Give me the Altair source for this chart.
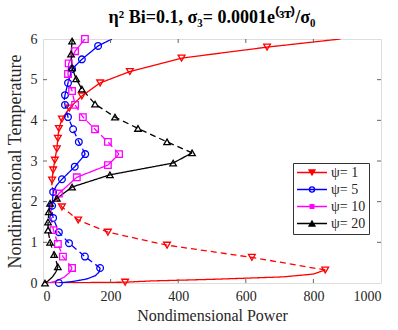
import altair as alt
import pandas as pd

SERIES = ["ψ= 1", "ψ= 5", "ψ= 10", "ψ= 20"]
COLORS = ["#ff0000", "#0000ff", "#ff00ff", "#000000"]
SHAPES = ["triangle-down", "circle", "square", "triangle-up"]
MARKER_SIZES = [46, 42, 24, 46]

X_TICKS = [0, 200, 400, 600, 800, 1000]
Y_TICKS = [0, 1, 2, 3, 4, 5, 6]

# ---- psi = 1 (red) ----
red_lower_P = [0, 243, 318, 500, 710, 800, 835]
red_lower_T = [0, 0.02, 0.05, 0.09, 0.15, 0.22, 0.32]
red_dash_P = [835, 618, 367, 192, 104, 56, 34, 26]
red_dash_T = [0.32, 0.63, 0.93, 1.25, 1.55, 1.87, 2.15, 2.4]
red_upper_P = [26, 27, 30, 35, 41, 44, 47, 56, 78, 115, 169, 257, 410, 663, 880]
red_upper_T = [2.4, 2.53, 2.78, 3.02, 3.3, 3.56, 3.8, 4.03, 4.3, 4.6, 4.92, 5.2, 5.53, 5.8, 6.0]
red_mk_P = [243, 835, 618, 367, 192, 104, 56, 27, 30, 35, 41, 44, 47, 56, 78, 115, 169, 257, 410, 663]
red_mk_T = [0.02, 0.32, 0.63, 0.93, 1.25, 1.55, 1.87, 2.53, 2.78, 3.02, 3.3, 3.56, 3.8, 4.03, 4.3, 4.6, 4.92, 5.2, 5.53, 5.8]

# ---- psi = 5 (blue) ----
blue_lower_P = [47, 90, 130, 155, 166, 169]
blue_lower_T = [0, 0.04, 0.1, 0.18, 0.27, 0.37]
blue_dash1_P = [169, 124, 77, 47, 30, 26]
blue_dash1_T = [0.37, 0.65, 0.98, 1.25, 1.6, 1.8]
blue_mid_P = [26, 27, 30, 40, 56, 94, 125]
blue_mid_T = [1.8, 1.9, 2.24, 2.4, 2.55, 2.86, 3.17]
blue_dash2_P = [125, 106, 89, 74, 65, 63]
blue_dash2_T = [3.17, 3.47, 3.78, 4.08, 4.38, 4.5]
blue_upper_P = [63, 65, 74, 86, 115, 163, 204]
blue_upper_T = [4.5, 4.62, 4.92, 5.26, 5.5, 5.83, 6.0]
blue_mk_P = [47, 169, 124, 77, 47, 30, 27, 30, 56, 94, 125, 106, 89, 74, 65, 65, 74, 86, 115, 163]
blue_mk_T = [0, 0.37, 0.65, 0.98, 1.25, 1.6, 1.9, 2.24, 2.55, 2.86, 3.17, 3.47, 3.78, 4.08, 4.38, 4.62, 4.92, 5.26, 5.5, 5.83]

# ---- psi = 10 (magenta) ----
mag_lower_P = [18, 40, 62, 78, 86]
mag_lower_T = [0, 0.05, 0.14, 0.25, 0.37]
mag_dash1_P = [86, 59, 44, 31, 23]
mag_dash1_T = [0.37, 0.65, 0.96, 1.3, 1.65]
mag_mid_P = [23, 25, 47, 100, 192, 225]
mag_mid_T = [1.65, 1.9, 2.2, 2.6, 2.9, 3.17]
mag_dash2_P = [225, 192, 154, 118, 95, 86, 76]
mag_dash2_T = [3.17, 3.47, 3.78, 4.08, 4.38, 4.72, 4.95]
mag_upper_P = [76, 74, 76, 95, 124]
mag_upper_T = [4.95, 5.14, 5.4, 5.7, 6.0]
mag_mk_P = [86, 59, 44, 31, 47, 100, 192, 225, 192, 154, 118, 95, 86, 74, 76, 95, 124]
mag_mk_T = [0.37, 0.65, 0.96, 1.3, 2.2, 2.6, 2.9, 3.17, 3.47, 3.78, 4.08, 4.38, 4.72, 5.14, 5.4, 5.7, 6.0]

# ---- psi = 20 (black) ----
blk_lower_P = [6, 15, 28, 38, 44]
blk_lower_T = [0, 0.05, 0.15, 0.27, 0.4]
blk_dash1_P = [44, 33, 21, 15, 15, 17]
blk_dash1_T = [0.4, 0.7, 1.0, 1.3, 1.5, 1.7]
blk_mid_P = [17, 21, 41, 86, 198, 385, 441]
blk_mid_T = [1.7, 1.96, 2.08, 2.36, 2.66, 2.95, 3.2]
blk_dash2_P = [441, 367, 281, 213, 154, 115]
blk_dash2_T = [3.2, 3.47, 3.8, 4.08, 4.4, 4.77]
blk_upper_P = [115, 98, 86, 83, 86, 88]
blk_upper_T = [4.77, 5.02, 5.29, 5.63, 5.95, 6.0]
blk_mk_P = [6, 44, 33, 21, 15, 15, 17, 21, 41, 86, 198, 385, 441, 367, 281, 213, 154, 115, 98, 86, 83, 86]
blk_mk_T = [0, 0.4, 0.7, 1.0, 1.3, 1.5, 1.75, 1.96, 2.08, 2.36, 2.66, 2.95, 3.2, 3.47, 3.8, 4.08, 4.4, 4.77, 5.02, 5.29, 5.63, 5.95]

branches = [
    (SERIES[0], "solid", red_lower_P, red_lower_T),
    (SERIES[0], "dashed", red_dash_P, red_dash_T),
    (SERIES[0], "solid", red_upper_P, red_upper_T),
    (SERIES[1], "solid", blue_lower_P, blue_lower_T),
    (SERIES[1], "dashed", blue_dash1_P, blue_dash1_T),
    (SERIES[1], "solid", blue_mid_P, blue_mid_T),
    (SERIES[1], "dashed", blue_dash2_P, blue_dash2_T),
    (SERIES[1], "solid", blue_upper_P, blue_upper_T),
    (SERIES[2], "solid", mag_lower_P, mag_lower_T),
    (SERIES[2], "dashed", mag_dash1_P, mag_dash1_T),
    (SERIES[2], "solid", mag_mid_P, mag_mid_T),
    (SERIES[2], "dashed", mag_dash2_P, mag_dash2_T),
    (SERIES[2], "solid", mag_upper_P, mag_upper_T),
    (SERIES[3], "solid", blk_lower_P, blk_lower_T),
    (SERIES[3], "dashed", blk_dash1_P, blk_dash1_T),
    (SERIES[3], "solid", blk_mid_P, blk_mid_T),
    (SERIES[3], "dashed", blk_dash2_P, blk_dash2_T),
    (SERIES[3], "solid", blk_upper_P, blk_upper_T),
]
markers = [
    (SERIES[0], red_mk_P, red_mk_T),
    (SERIES[1], blue_mk_P, blue_mk_T),
    (SERIES[2], mag_mk_P, mag_mk_T),
    (SERIES[3], blk_mk_P, blk_mk_T),
]

rows = []
for k, (s, style, ps, ts) in enumerate(branches):
    for i, (p, t) in enumerate(zip(ps, ts)):
        rows.append({"series": s, "style": style, "seg": k, "i": i, "P": p, "T": t})
lines_df = pd.DataFrame(rows)

mrows = []
for s, ps, ts in markers:
    for p, t in zip(ps, ts):
        mrows.append({"series": s, "P": p, "T": t})
marks_df = pd.DataFrame(mrows)

FONT = "Liberation Serif"
xscale = alt.Scale(domain=[0, 1000], nice=False)
yscale = alt.Scale(domain=[0, 6], nice=False)
cscale = alt.Scale(domain=SERIES, range=COLORS)

x_axis = alt.Axis(values=X_TICKS, format="d", title="Nondimensional Power", grid=False, domain=False,
                  ticks=False, labelFont=FONT, labelFontSize=14, labelColor="#262626",
                  labelPadding=6, titleFont=FONT, titleFontSize=16, titleFontWeight="normal",
                  titleColor="#262626", titlePadding=4)
y_axis = alt.Axis(values=Y_TICKS, format="d", title="Nondimensional Temperature", grid=False, domain=False,
                  ticks=False, labelFont=FONT, labelFontSize=14, labelColor="#262626",
                  labelPadding=6, titleFont=FONT, titleFontSize=18, titleFontWeight="normal",
                  titleColor="#262626", titlePadding=6)

lines = alt.Chart(lines_df).mark_line(strokeWidth=1.3, clip=True).encode(
    x=alt.X("P:Q", scale=xscale, axis=x_axis),
    y=alt.Y("T:Q", scale=yscale, axis=y_axis),
    color=alt.Color("series:N", scale=cscale, legend=None),
    strokeDash=alt.StrokeDash("style:N", scale=alt.Scale(domain=["solid", "dashed"], range=[[1, 0], [6, 4]]), legend=None),
    detail="seg:N",
    order="i:Q",
)

points = alt.Chart(marks_df).mark_point(filled=False, strokeWidth=1.3, opacity=1).encode(
    x=alt.X("P:Q", scale=xscale, axis=x_axis),
    y=alt.Y("T:Q", scale=yscale, axis=y_axis),
    color=alt.Color("series:N", scale=cscale, legend=None),
    shape=alt.Shape("series:N", scale=alt.Scale(domain=SERIES, range=SHAPES), legend=None),
    size=alt.Size("series:N", scale=alt.Scale(domain=SERIES, range=MARKER_SIZES), legend=None),
)

LEG_PATHS = [
    "M-1,0H1M-0.2,-0.17L0.2,-0.17L0,0.17Z",
    "M-1,0H1M0.17,0A0.17,0.17,0,1,1,-0.17,0A0.17,0.17,0,1,1,0.17,0",
    "M-1,0H1M-0.12,-0.12H0.12V0.12H-0.12Z",
    "M-1,0H1M-0.2,0.17L0.2,0.17L0,-0.17Z",
]
LEG_FILLS = ["#ff0000", "transparent", "#ff00ff", "#000000"]
legend_df = pd.DataFrame({"series": SERIES})
leg = alt.Legend(title=None, orient="none", legendX=250, legendY=124, symbolSize=900,
                 clipHeight=13, symbolStrokeWidth=1.3, symbolOpacity=1, labelFont=FONT,
                 labelFontSize=14, labelOffset=3, padding=3, rowPadding=2,
                 strokeColor="#333333", fillColor="white", labelColor="#262626")
legend_layer = alt.Chart(legend_df).mark_point(filled=False, opacity=0).encode(
    x=alt.value(0), y=alt.value(0),
    color=alt.Color("series:N", scale=cscale, legend=leg),
    fill=alt.Fill("series:N", scale=alt.Scale(domain=SERIES, range=LEG_FILLS), legend=leg),
    shape=alt.Shape("series:N", scale=alt.Scale(domain=SERIES, range=LEG_PATHS), legend=leg),
)

tick_color = "#666666"
xt = alt.Chart(pd.DataFrame({"v": X_TICKS[1:-1]}))
yt = alt.Chart(pd.DataFrame({"v": Y_TICKS[1:-1]}))
tick_b = xt.mark_rule(color=tick_color).encode(x=alt.X("v:Q", scale=xscale, axis=x_axis), y=alt.value(244), y2=alt.value(240))
tick_t = xt.mark_rule(color=tick_color).encode(x=alt.X("v:Q", scale=xscale, axis=x_axis), y=alt.value(0), y2=alt.value(4))
tick_l = yt.mark_rule(color=tick_color).encode(y=alt.Y("v:Q", scale=yscale, axis=y_axis), x=alt.value(0), x2=alt.value(4))
tick_r = yt.mark_rule(color=tick_color).encode(y=alt.Y("v:Q", scale=yscale, axis=y_axis), x=alt.value(338), x2=alt.value(334))

title = alt.TitleParams(
    text="η² Bi=0.1, σ₃= 0.0001e⁽³ᵀ⁾/σ₀",
    font=FONT, fontSize=18, fontWeight="bold", color="#000000",
    anchor="middle", offset=5,
)

chart = alt.layer(lines, points, legend_layer, tick_b, tick_t, tick_l, tick_r).resolve_scale(
    color="independent", shape="independent", fill="independent", size="independent"
).properties(
    width=338, height=244, title=title,
    autosize=alt.AutoSizeParams(type="none"),
    padding={"left": 43, "top": 39, "right": 17, "bottom": 47},
).configure_view(
    stroke="#8a8a8a", strokeWidth=1
).configure_axis(
    labelFont=FONT, titleFont=FONT
).configure_legend(
    labelFont=FONT
).configure(background="white")

chart.save("out.html", embed_options={"renderer": "svg", "actions": False})
